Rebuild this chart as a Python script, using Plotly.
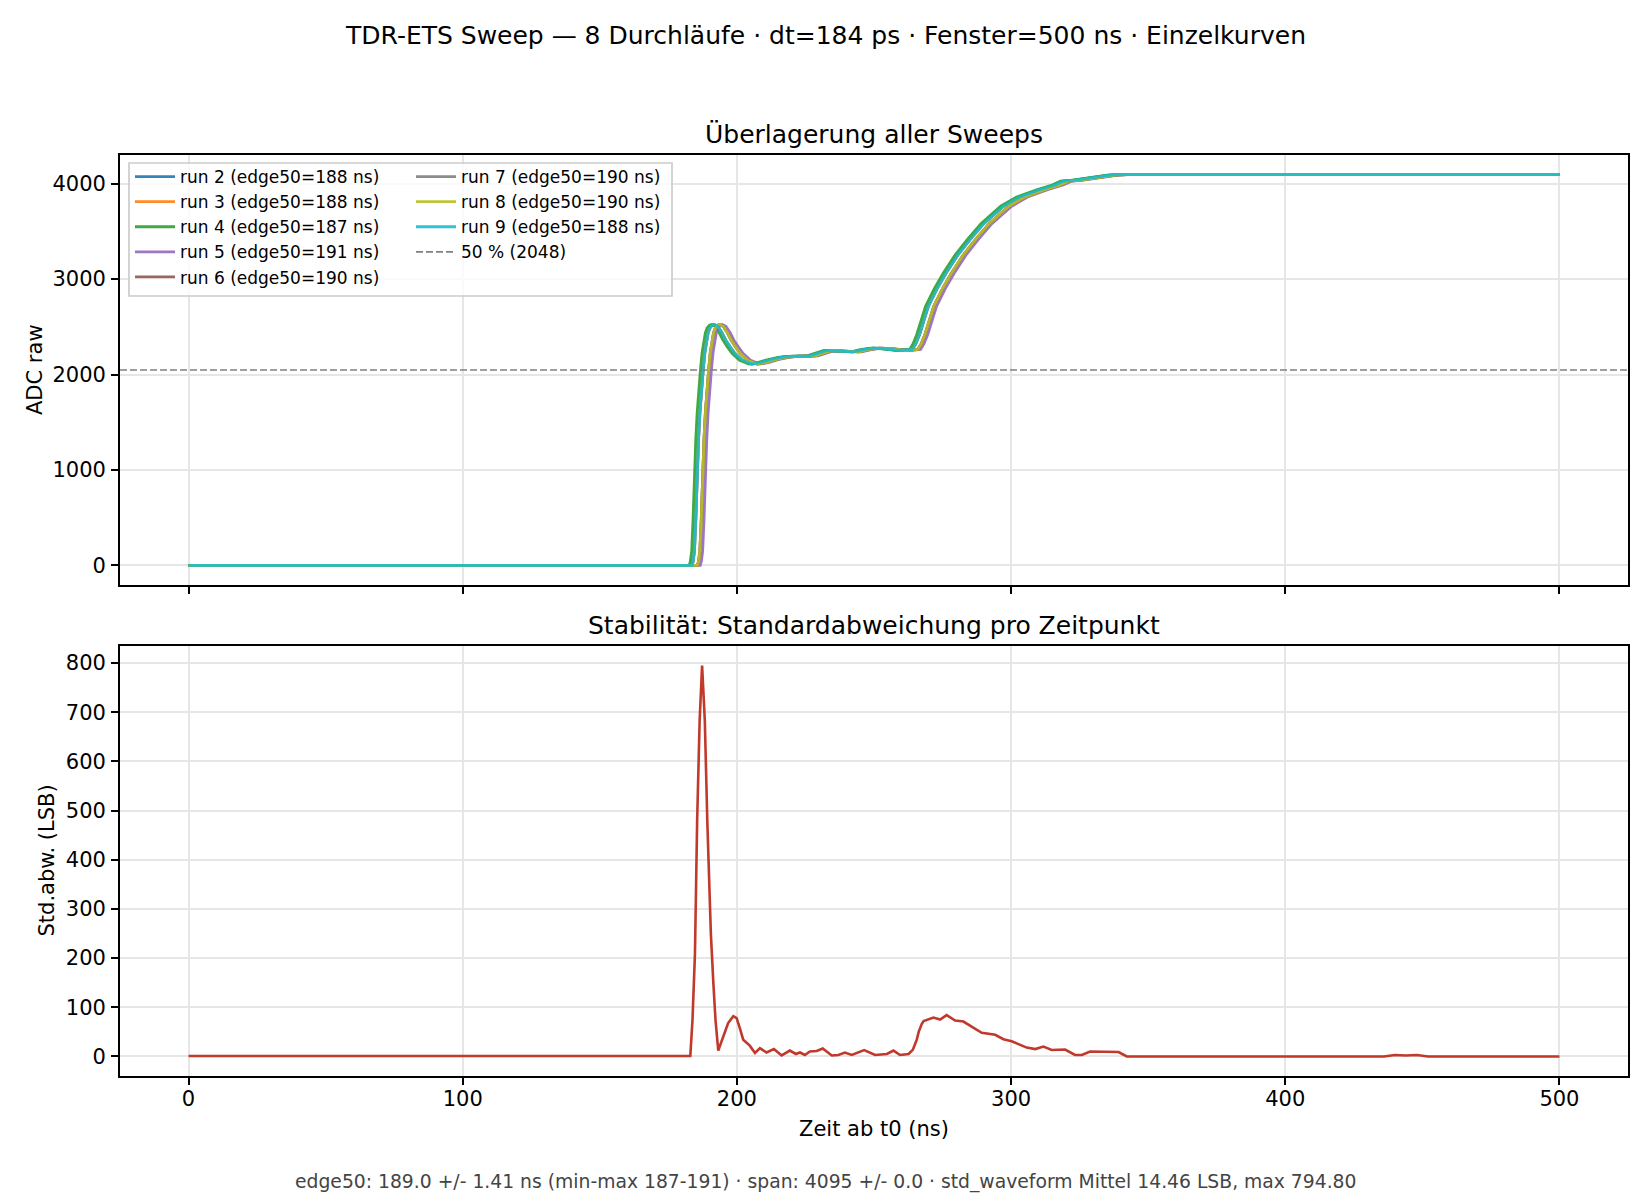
import plotly.graph_objects as go

# Werte
runs = [2, 3, 4, 5, 6, 7, 8, 9]
edge50_ns = [188, 188, 187, 191, 190, 190, 190, 188]
run_colors = ["#1f77b4", "#ff7f0e", "#2ca02c", "#9467bd",
              "#8c564b", "#7f7f7f", "#bcbd22", "#17becf"]

window_ns = [0, 500]
adc_low = 0
adc_high = 4095
threshold_adc = 2048

# Sprungantwort eines Durchlaufs mit edge50 = 188 ns (Stützpunkte)
edge_ref_ns = 188
edge_t = [183.6, 184.0, 184.5, 185.0, 185.5, 186.0, 186.5, 187.1, 187.7, 188.3,
          188.9, 189.5, 190.2, 191.0, 191.7, 193.0, 194.5, 195.9, 197.5, 199.3,
          202.0, 205.4, 208.5, 212.0, 216.0, 219.3, 226.6, 230.0, 232.7, 237.0,
          242.5, 246.0, 249.8, 254.0, 259.5, 264.0, 265.2, 266.6, 268.2, 269.8,
          273.0, 276.3, 280.5, 285.0, 290.0, 297.2, 303.0, 310.6, 316.0, 319.0,
          322.7, 330.0, 336.0, 340.0]
edge_adc = [0, 40, 150, 480, 960, 1320, 1600, 1850, 2050, 2230,
            2360, 2440, 2490, 2518, 2525, 2505, 2440, 2360, 2290, 2220,
            2150, 2110, 2125, 2155, 2180, 2190, 2196, 2225, 2252, 2245,
            2238, 2260, 2277, 2270, 2252, 2262, 2320, 2420, 2560, 2714,
            2900, 3064, 3250, 3413, 3580, 3763, 3860, 3938, 3985, 4025,
            4035, 4068, 4088, 4095]

# Standardabweichung pro Zeitpunkt
std_t = [0, 183.0, 183.8, 184.7, 185.5, 186.4, 187.3, 188.3, 189.2, 190.5,
         191.4, 192.2, 193.2, 195.0, 196.8, 198.7, 199.9, 201.2, 202.3, 204.7,
         206.6, 208.4, 210.8, 213.5, 216.3, 219.3, 221.5, 223.0, 224.8, 226.6,
         229.1, 231.3, 234.6, 237.0, 239.4, 241.9, 246.4, 250.4, 254.7, 257.1,
         259.5, 262.6, 264.2, 265.6, 266.3, 267.4, 268.1, 271.7, 274.1, 276.5,
         279.6, 282.6, 285.7, 289.3, 294.2, 297.2, 300.2, 305.7, 308.8, 311.8,
         314.8, 319.7, 323.3, 325.8, 328.8, 334.9, 339.2, 342.2, 436.0, 440.0,
         444.0, 448.0, 452.0, 500.0]
std_lsb = [1, 1, 74, 209, 479, 682, 794.8, 682, 479, 250,
           150, 74, 12, 41, 68, 82, 78, 55, 34, 22,
           7, 17, 8, 15, 2, 12, 5, 8, 3, 10,
           11, 16, 2, 3, 8, 3, 13, 3, 5, 12,
           3, 5, 14, 34, 50, 66, 72, 79, 75, 84,
           73, 71, 60, 48, 44, 35, 31, 18, 15, 20,
           13, 14, 3, 3, 10, 10, 9, 0, 0, 3,
           2, 3, 0, 0]

title = "TDR-ETS Sweep — 8 Durchläufe · dt=184 ps · Fenster=500 ns · Einzelkurven"
footer = ("edge50: 189.0 +/- 1.41 ns (min-max 187-191) · span: 4095 +/- 0.0 · "
          "std_waveform Mittel 14.46 LSB, max 794.80")

# Seite hat 8 px Rand -> Figur etwas kleiner, Koordinaten in Fensterpixeln
OFF = 8
W, H = 1650 - OFF, 1200 - OFF
FONT = "DejaVu Sans"


def px_x(p):
    return (p - OFF) / W


def px_y(p):
    return 1 - (p - OFF) / H


fig = go.Figure()

for run, e, col in zip(runs, edge50_ns, run_colors):
    shift = e - edge_ref_ns
    x = [window_ns[0]] + [t + shift for t in edge_t] + [window_ns[1]]
    y = [adc_low] + edge_adc + [adc_high]
    fig.add_trace(go.Scatter(
        x=x, y=y, mode="lines", name=f"run {run} (edge50={e} ns)",
        line=dict(color=col, width=2.8), opacity=0.9,
        xaxis="x", yaxis="y",
        legend="legend" if run <= 6 else "legend2",
    ))

fig.add_shape(type="line", xref="x domain", yref="y", x0=0, x1=1,
              y0=threshold_adc, y1=threshold_adc,
              line=dict(color="#808080", width=1.6, dash="7px,3px"),
              showlegend=True, name=f"50 % ({threshold_adc})", legend="legend2",
              legendrank=2000)

fig.add_trace(go.Scatter(
    x=std_t, y=std_lsb, mode="lines", showlegend=False,
    line=dict(color="#c0392b", width=2.6), xaxis="x2", yaxis="y2",
))

axis_style = dict(showline=True, linecolor="black", linewidth=1.7, mirror=True,
                  ticks="outside", ticklen=7, tickwidth=1.7, tickcolor="black",
                  showgrid=True, gridcolor="#e6e6e6", gridwidth=1.6, zeroline=False,
                  tickfont=dict(family=FONT, size=21, color="black"))

xdom = [px_x(120), px_x(1628)]
fig.update_layout(
    width=W, height=H,
    margin=dict(l=0, r=0, t=0, b=0, autoexpand=False),
    paper_bgcolor="white", plot_bgcolor="white",
    font=dict(family=FONT, color="black"),
    xaxis=dict(axis_style, domain=xdom, anchor="y", range=[-25, 525],
               tickvals=[0, 100, 200, 300, 400, 500], showticklabels=False),
    yaxis=dict(axis_style, domain=[px_y(585), px_y(155)], anchor="x",
               range=[-204.75, 4299.75], tickvals=[0, 1000, 2000, 3000, 4000],
               ticklabelstandoff=1),
    xaxis2=dict(axis_style, domain=xdom, anchor="y2", range=[-25, 525],
                tickvals=[0, 100, 200, 300, 400, 500], matches="x",
                ticklabelstandoff=-4),
    yaxis2=dict(axis_style, domain=[px_y(1076), px_y(646)], anchor="x2",
                range=[-39.74, 834.54], tickvals=list(range(0, 801, 100)),
                ticklabelstandoff=1),
    legend=dict(x=px_x(130), y=px_y(159), xanchor="left", yanchor="top",
                bgcolor="rgba(0,0,0,0)", borderwidth=0,
                font=dict(family=FONT, size=17), itemwidth=40),
    legend2=dict(x=px_x(411), y=px_y(159), xanchor="left", yanchor="top",
                 bgcolor="rgba(0,0,0,0)", borderwidth=0,
                 font=dict(family=FONT, size=17), itemwidth=40),
    showlegend=True,
)

# Legendenrahmen (gemeinsam für beide Spalten)
fig.add_shape(type="rect", xref="paper", yref="paper",
              x0=px_x(129), x1=px_x(672), y0=px_y(296), y1=px_y(163),
              fillcolor="rgba(255,255,255,0.8)",
              line=dict(color="#cccccc", width=1.7), layer="above")


def label(text, x, y, size, angle=0, color="black"):
    fig.add_annotation(text=text, x=px_x(x), y=px_y(y), xref="paper", yref="paper",
                       showarrow=False, xanchor="center", yanchor="middle",
                       textangle=angle, font=dict(family=FONT, size=size, color=color))


label(title, 825, 35, 25)
label("Überlagerung aller Sweeps", 874, 134, 25)
label("Stabilität: Standardabweichung pro Zeitpunkt", 874, 625, 25)
label("ADC raw", 35, 370, 21, angle=-90)
label("Std.abw. (LSB)", 46.5, 861, 21, angle=-90)
label("Zeit ab t0 (ns)", 874, 1129, 21)
label(footer, 825, 1182, 18.75, color="#444444")

fig.write_html("out.html")
